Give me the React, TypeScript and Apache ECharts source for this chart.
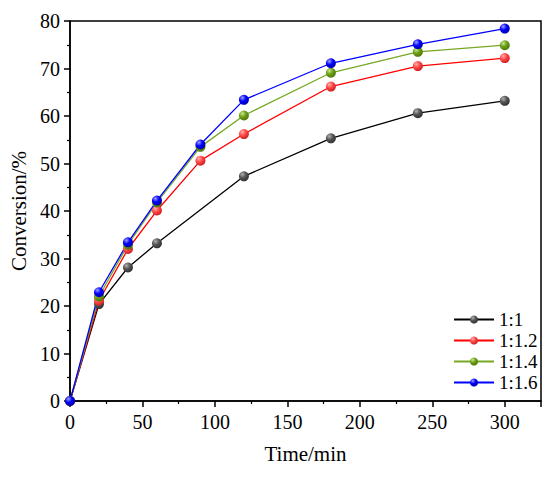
import React, { useEffect, useRef } from "react";
import * as echarts from "echarts";

const seriesNames = ["1:1", "1:1.2", "1:1.4", "1:1.6"];
const timeBlack = [0, 20, 40, 60, 120, 180, 240, 300];
const valBlack = [0, 20.4, 28.1, 33.2, 47.3, 55.3, 60.6, 63.2];
const timeOthers = [0, 20, 40, 60, 90, 120, 180, 240, 300];
const valRed = [0, 21.1, 32.0, 40.1, 50.6, 56.2, 66.2, 70.5, 72.2];
const valGreen = [0, 22.0, 32.9, 41.8, 53.5, 60.1, 69.1, 73.5, 74.9];
const valBlue = [0, 22.9, 33.4, 42.2, 54.0, 63.4, 71.1, 75.1, 78.4];

const lineColors = ["#000000", "#ff0000", "#77a823", "#0000ff"];
const ballColors = [
  ["#b0b0b0", "#555555", "#333333"],
  ["#ffb0b0", "#ff4848", "#d02020"],
  ["#c8e890", "#6e9e18", "#4e7a08"],
  ["#a0a0ff", "#0000ff", "#0000b0"],
];

const FONT = "Liberation Serif";

function ball(i: number) {
  const c = ballColors[i];
  return new echarts.graphic.RadialGradient(0.35, 0.3, 0.7, [
    { offset: 0, color: c[0] },
    { offset: 0.5, color: c[1] },
    { offset: 1, color: c[2] },
  ]);
}

function pairs(xs: number[], ys: number[]) {
  return xs.map((x, i) => [x, ys[i]]);
}

export default function App() {
  const ref = useRef<HTMLDivElement>(null);
  useEffect(() => {
    if (!ref.current) return;
    const chart = echarts.init(ref.current, null, { renderer: "svg" });
    const datas = [
      pairs(timeBlack, valBlack),
      pairs(timeOthers, valRed),
      pairs(timeOthers, valGreen),
      pairs(timeOthers, valBlue),
    ];
    chart.setOption({
      animation: false,
      backgroundColor: "#ffffff",
      textStyle: { fontFamily: FONT },
      grid: {
        left: 70,
        right: 9,
        top: 21,
        bottom: 76,
        containLabel: false,
        outerBoundsMode: "none",
        show: true,
        borderColor: "#000",
        borderWidth: 1.5,
      },
      legend: {
        orient: "vertical",
        left: 448,
        top: 305,
        padding: 5,
        itemWidth: 40,
        itemHeight: 10,
        itemGap: 2,
        textStyle: { fontSize: 19, color: "#000", fontFamily: FONT },
        data: seriesNames,
      },
      xAxis: {
        type: "value",
        min: 0,
        max: 325,
        interval: 50,
        name: "Time/min",
        nameLocation: "middle",
        nameGap: 42,
        nameTextStyle: { fontSize: 21, color: "#000", fontFamily: FONT },
        axisLine: { show: true, lineStyle: { color: "#000", width: 1.5 } },
        axisTick: { show: true, inside: false, length: 6, lineStyle: { color: "#000", width: 1.5 } },
        minorTick: { show: true, splitNumber: 2, length: 3, lineStyle: { color: "#000", width: 1.2 } },
        axisLabel: { fontSize: 20, color: "#000", margin: 11, showMaxLabel: false, fontFamily: FONT },
        splitLine: { show: false },
      },
      yAxis: {
        type: "value",
        min: 0,
        max: 80,
        interval: 10,
        name: "Conversion/%",
        nameLocation: "middle",
        nameGap: 38,
        nameTextStyle: { fontSize: 21, color: "#000", fontFamily: FONT },
        axisLine: { show: true, lineStyle: { color: "#000", width: 1.5 } },
        axisTick: { show: true, inside: false, length: 6, lineStyle: { color: "#000", width: 1.5 } },
        minorTick: { show: true, splitNumber: 2, length: 3, lineStyle: { color: "#000", width: 1.2 } },
        axisLabel: { fontSize: 20, color: "#000", margin: 10, fontFamily: FONT },
        splitLine: { show: false },
      },
      series: seriesNames.map((name, i) => ({
        name,
        type: "line",
        data: datas[i],
        symbol: "circle",
        symbolSize: 10,
        lineStyle: { color: lineColors[i], width: 1.3 },
        itemStyle: { color: ball(i), borderWidth: 0 },
        emphasis: { disabled: true },
      })),
    });
    return () => chart.dispose();
  }, []);
  return (
    <div
      ref={ref}
      style={{ position: "fixed", left: 0, top: 0, width: 550, height: 477 }}
    />
  );
}
